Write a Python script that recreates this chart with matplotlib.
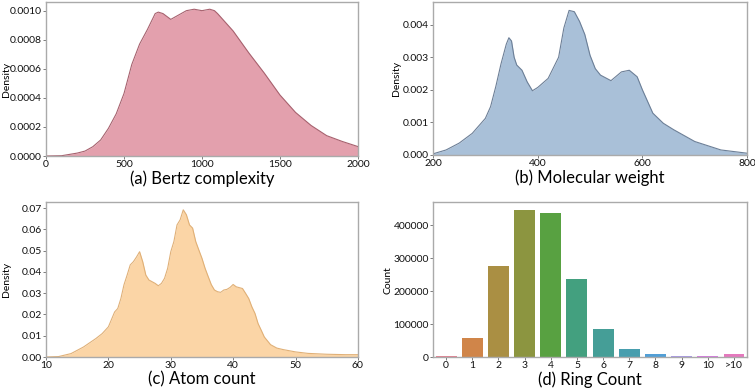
import matplotlib
matplotlib.use("Agg")
import matplotlib.pyplot as plt
import seaborn as sns

# (a) Bertz complexity density
bertz_x = [0, 100, 200, 250, 300, 350, 400, 450, 500, 550, 600, 650, 700, 720, 750,
           800, 850, 900, 950, 1000, 1050, 1080, 1100, 1200, 1300, 1400, 1500, 1600,
           1700, 1800, 1900, 2000]
bertz_y = [0, 0.000002, 0.00002, 0.000034, 0.000064, 0.00011, 0.00019, 0.00029, 0.00043,
           0.00063, 0.00077, 0.00087, 0.00098, 0.00099, 0.00098, 0.00094, 0.00097, 0.00100,
           0.00101, 0.00100, 0.00101, 0.00100, 0.00098, 0.00086, 0.00071, 0.00057, 0.00042,
           0.00030, 0.00021, 0.00014, 0.00010, 0.000065]

# (b) Molecular weight density
mw_x = [200, 225, 250, 275, 300, 310, 320, 330, 340, 345, 350, 355, 360, 370, 380, 390,
        400, 420, 440, 450, 460, 470, 480, 490, 500, 510, 520, 540, 560, 575, 590, 600,
        620, 640, 660, 700, 750, 800]
mw_y = [0.00003, 0.00015, 0.00036, 0.00066, 0.00112, 0.00148, 0.0021, 0.0028, 0.0034,
        0.0036, 0.0035, 0.0030, 0.00276, 0.0026, 0.00224, 0.00197, 0.00207, 0.00235, 0.0030,
        0.0039, 0.00444, 0.0044, 0.0041, 0.0037, 0.00306, 0.00265, 0.00245, 0.00228, 0.00255,
        0.0026, 0.0024, 0.0020, 0.00128, 0.00097, 0.00077, 0.00041, 0.00015, 0.00005]

# (c) Atom count density
atom_x = [10, 12, 14, 16, 18, 19, 20, 21, 21.5, 22, 22.5, 23, 23.5, 24, 24.5, 25, 25.5,
          26, 26.5, 27, 27.5, 28, 28.5, 29, 29.5, 30, 30.5, 31, 31.5, 32, 32.5, 33, 33.5,
          34, 34.5, 35, 35.5, 36, 36.5, 37, 37.5, 38, 38.5, 39, 39.5, 40, 40.5, 41, 41.5,
          42, 42.5, 43, 43.5, 44, 44.5, 45, 46, 47, 48, 50, 52, 55, 58, 60]
atom_y = [0, 0.0002, 0.0016, 0.0047, 0.0087, 0.011, 0.0142, 0.0212, 0.0228, 0.0275, 0.034,
          0.0385, 0.0433, 0.0448, 0.047, 0.0495, 0.0448, 0.0385, 0.0362, 0.0354, 0.0346,
          0.0335, 0.0346, 0.037, 0.0417, 0.0495, 0.0543, 0.0621, 0.0645, 0.0692, 0.0669,
          0.0621, 0.0606, 0.0543, 0.0503, 0.0464, 0.0417, 0.0378, 0.034, 0.0315, 0.0307,
          0.0304, 0.0315, 0.0318, 0.0327, 0.0341, 0.033, 0.0326, 0.0322, 0.0299, 0.0275,
          0.0236, 0.0205, 0.0157, 0.0126, 0.0094, 0.0058, 0.0042, 0.0035, 0.0024, 0.0017,
          0.0013, 0.0011, 0.0011]

# (d) Ring count
ring_labels = ["0", "1", "2", "3", "4", "5", "6", "7", "8", "9", "10", ">10"]
ring_counts = [2000, 59000, 276000, 448000, 438000, 237000, 84500, 23000, 8000, 4000, 3000, 10000]

plt.rcParams['font.family'] = ['Lato', 'DejaVu Sans']
fig = plt.figure(figsize=(7.55, 3.9), dpi=100)

spine_col = "#aaaaaa"
tick_fs = 7.5
title_fs = 12

def style(ax):
    for s in ax.spines.values():
        s.set_color(spine_col)
        s.set_linewidth(1.0)
    ax.tick_params(labelsize=tick_fs, length=2, width=0.6, color="#666666", pad=1,
                   labelcolor="#111111")


def kde_panel(rect, x, y, fill, edge, xlim, ylim, xticks, yticks, fmt, title, lab_x):
    ax = fig.add_axes(rect)
    ax.fill_between(x, y, 0, color=fill, lw=0)
    ax.plot(x, y, color=edge, lw=0.8)
    ax.set_xlim(*xlim)
    ax.set_ylim(*ylim)
    ax.set_xticks(xticks)
    ax.set_yticks(yticks)
    ax.set_yticklabels([fmt.format(v) for v in yticks])
    ax.set_ylabel("Density", fontsize=7.5)
    ax.yaxis.set_label_coords(lab_x, 0.5)
    ax.set_xlabel(title, fontsize=title_fs, labelpad=1)
    style(ax)
    return ax

kde_panel([0.061, 0.600, 0.413, 0.395], bertz_x, bertz_y, "#e3a0ad", "#a7616e",
          (0, 2000), (0, 0.00106), [0, 500, 1000, 1500, 2000],
          [0, 0.0002, 0.0004, 0.0006, 0.0008, 0.0010], "{:.4f}", "(a) Bertz complexity", -0.113)

kde_panel([0.5735, 0.603, 0.416, 0.392], mw_x, mw_y, "#a9c0d8", "#6c7f97",
          (200, 800), (0, 0.0047), [200, 400, 600, 800],
          [0, 0.001, 0.002, 0.003, 0.004], "{:.3f}", "(b) Molecular weight", -0.103)

kde_panel([0.061, 0.0846, 0.413, 0.397], atom_x, atom_y, "#fbd5a6", "#e0b077",
          (10, 60), (0, 0.0728), [10, 20, 30, 40, 50, 60],
          [0, 0.01, 0.02, 0.03, 0.04, 0.05, 0.06, 0.07], "{:.2f}", "(c) Atom count", -0.113)

ax = fig.add_axes([0.5735, 0.0846, 0.416, 0.397])
pal = sns.color_palette("husl", len(ring_labels), desat=0.75)
ax.bar(range(len(ring_labels)), ring_counts, width=0.8, color=pal)
ax.set_xlim(-0.5, len(ring_labels) - 0.5)
ax.set_ylim(0, max(ring_counts) * 1.05)
ax.set_xticks(range(len(ring_labels)))
ax.set_xticklabels(ring_labels)
ax.set_yticks([0, 100000, 200000, 300000, 400000])
ax.set_ylabel("Count", fontsize=7.5)
ax.yaxis.set_label_coords(-0.128, 0.5)
ax.set_xlabel("(d) Ring Count", fontsize=title_fs, labelpad=1)
style(ax)

fig.savefig("out.png", dpi=100)
